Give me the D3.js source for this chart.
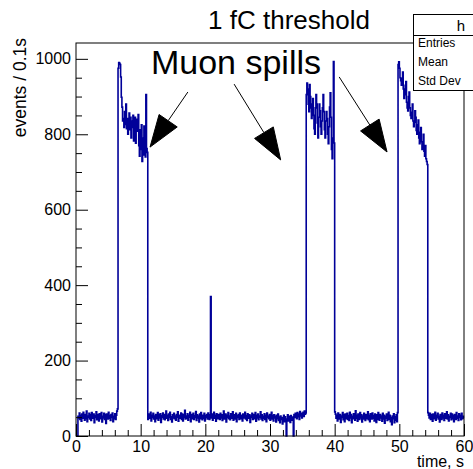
<!DOCTYPE html>
<html>
<head>
<meta charset="utf-8">
<script src="https://cdn.jsdelivr.net/npm/d3@7/dist/d3.min.js"></script>
<style>
  html, body { margin: 0; padding: 0; background: #fff; }
  svg { display: block; }
  text { font-family: "Liberation Sans", Arial, Helvetica, sans-serif; }
</style>
</head>
<body>
<svg id="chart" width="473" height="469"></svg>
<script>
// ---- data: events per 0.1 s bin, segment by segment ----
const binWidth = 0.1;
const bgA = [0,0,0,52,48,61,44,55,39,58,
  47,63,50,42,57,46,66,38,53,49,
  60,45,56,41,62,50,47,58,35,54,
  49,64,43,57,51,40,59,46,55,62,
  37,52,48,60,44,56,33,58,50,45,
  63,47,54,41,57,49,61,38,52,46,
  59,44,55,66,72];
const spill1 = [975,990,988,985,952,898,872,835,842,818,
  860,826,880,815,842,800,838,856,812,845,
  790,835,818,850,782,828,845,776,840,820,
  808,852,770,742,812,760,825,728,790,745,
  822,780,740,905,762,752];
const bgB = [44,58,52,47,63,40,55,49,60,45,
  53,38,57,50,46,62,42,56,48,59,
  36,54,50,61,45,57,43,52,66,47,
  55,41,58,49,63,44,51,37,56,48,
  60,46,53,42,57,50,64,39,55,47,
  52,61,44,58,40,56,49,68,45,53,
  47,59,42,55,50,63,38,57,46,52,
  60,44,54,49,65,41,56,48,53,37,
  58,46,62,50,43,55,47,60,40,54,
  49,57,45,61,52,44,56,370,48,58,
  42,53,63,47,55,39,59,50,46,57,
  52,44,60,48,56,41,54,66,45,51,
  58,37,55,49,62,46,53,43,59,50,
  47,64,42,56,51,45,60,38,54,49,
  57,44,61,50,46,55,40,58,52,48,
  63,45,54,41,59,50,47,56,36,53,
  49,60,44,57,52,46,62,39,55,48,
  58,43,53,50,64,45,56,41,52,47,
  59,44,55,38,61,49,53,46,57,42,
  50,63,45,54,40,56,48,52,37,55,
  46,58,41,50,35,53,44,49,32,47,
  55,38,51,43,0,45,56,40,52,48,
  36,54,42,50,47,0,57,49,60,53,
  46,62,51,58,44,65,53,60,48,57,
  63,52,66,58,61];
const spill2 = [905,936,920,880,860,932,900,870,842,880,
  895,850,815,800,870,905,880,830,790,845,
  880,862,820,800,835,870,905,860,812,790,
  835,860,842,800,775,820,872,910,845,760,
  735,790,993,777];
const bgC = [64,58,47,55,40,61,52,45,57,36,
  53,49,62,43,56,38,58,50,46,60,
  44,54,41,63,48,57,35,52,46,59,
  50,42,67,47,55,39,58,51,44,62,
  48,56,37,53,45,60,49,41,57,52,
  46,64,43,55,38,59,50,45,61,47,
  54,40,58,49,36,56,44,62,51,42,
  57,48,53,39,60,45,55,34,52,47,
  58,41,50,63,44,55,38,49,30,53,
  46,59,35,51,42,56,38,62];
const spill3 = [985,992,975,950,942,930,948,965,920,895,
  905,930,940,885,870,862,900,912,870,850,
  842,858,880,835,820,832,862,845,810,800,
  825,838,790,775,805,818,780,760,772,800,
  755,742,770,735,728,720];
const bgD = [62,55,48,60,44,57,51,39,58,46,
  53,63,42,55,49,60,45,52,37,57,
  50,44,61,48,55,41,59,47,53,64,
  45,56,40,52,49,60,43,58,46,54,
  38,57,50,44,62,47,53,41,59,49,
  55,43,60,46,52,48];

const xTicksMajor = [0,10,20,30,40,50,60];
const yTicksMajor = [0,200,400,600,800,1000];
const titleText = "1 fC threshold";
const xTitle = "time, s";
const yTitle = "events / 0.1s";
const noteText = "Muon spills";
const statsName = "h";
const statsRows = ["Entries","Mean","Std Dev"];
// annotation arrows in data units: [t0, y0, t1 (tip), y1 (tip)]
const arrowsData = [[17.3, 912, 11.45, 766],[24.45, 933, 31.65, 732],[40.7, 952, 48.1, 753]];

const counts = [].concat(bgA, spill1, bgB, spill2, bgC, spill3, bgD);

// ---- drawing ----
const svg = d3.select("#chart");
const x = d3.scaleLinear().domain([0, 60]).range([76, 464]);
const y = d3.scaleLinear().domain([0, 1042]).range([436, 43]);

// title
svg.append("text").attr("x", 289).attr("y", 29).attr("text-anchor", "middle")
  .attr("font-size", 26).attr("fill", "#000").text(titleText);

// histogram step outline
const pts = counts.map((v, i) => [i * binWidth, v]);
pts.push([counts.length * binWidth, counts[counts.length - 1]]);
const line = d3.line().x(d => x(d[0])).y(d => y(d[1])).curve(d3.curveStepAfter);
svg.append("path").datum(pts).attr("d", line)
  .attr("fill", "none").attr("stroke", "#000099").attr("stroke-width", 1.6)
  .attr("stroke-linejoin", "miter");

// axes
const fontFam = '"Liberation Sans", Arial, Helvetica, sans-serif';
const gx = svg.append("g").attr("transform", `translate(0,${y(0)})`)
  .call(d3.axisBottom(x).tickValues(xTicksMajor).tickSize(-12).tickPadding(5).tickFormat(d3.format("d")));
const gxm = svg.append("g").attr("transform", `translate(0,${y(0)})`)
  .call(d3.axisBottom(x).tickValues(d3.range(0, 61, 2).filter(v => v % 10 !== 0)).tickSize(-6).tickFormat(""));
const gy = svg.append("g").attr("transform", `translate(${x(0)},0)`)
  .call(d3.axisLeft(y).tickValues(yTicksMajor).tickSize(-12).tickPadding(5).tickFormat(d3.format("d")));
const gym = svg.append("g").attr("transform", `translate(${x(0)},0)`)
  .call(d3.axisLeft(y).tickValues(d3.range(0, 1001, 50).filter(v => v % 200 !== 0)).tickSize(-6).tickFormat(""));
[gx, gxm, gy, gym].forEach(g => {
  g.select(".domain").remove();
  g.selectAll("line").attr("stroke", "#000").attr("stroke-width", 1);
  g.selectAll("text").attr("font-size", 16).attr("fill", "#000").attr("font-family", fontFam);
});

// frame
svg.append("rect").attr("x", x(0)).attr("y", y(1042))
  .attr("width", x(60) - x(0)).attr("height", y(0) - y(1042))
  .attr("fill", "none").attr("stroke", "#000").attr("stroke-width", 1);

// axis titles
svg.append("text").attr("x", x(60)).attr("y", 467).attr("text-anchor", "end")
  .attr("font-size", 16).text(xTitle);
svg.append("text").attr("transform", `translate(26,${y(1042) - 5}) rotate(-90)`)
  .attr("text-anchor", "end").attr("font-size", 17.5).text(yTitle);

// annotation
svg.append("text").attr("x", x(24.74)).attr("y", y(960)).attr("text-anchor", "middle")
  .attr("font-size", 34).text(noteText);

const headLen = 32, headHalf = 11;
arrowsData.forEach(a => {
  const x0 = x(a[0]), y0 = y(a[1]), x1 = x(a[2]), y1 = y(a[3]);
  const dx = x1 - x0, dy = y1 - y0, L = Math.hypot(dx, dy);
  const ux = dx / L, uy = dy / L;
  const bx = x1 - ux * headLen, by = y1 - uy * headLen;
  svg.append("line").attr("x1", x0).attr("y1", y0).attr("x2", bx).attr("y2", by)
    .attr("stroke", "#000").attr("stroke-width", 1);
  svg.append("path")
    .attr("d", `M${x1},${y1}L${bx - uy * headHalf},${by + ux * headHalf}L${bx + uy * headHalf},${by - ux * headHalf}Z`)
    .attr("fill", "#000").attr("stroke", "#000").attr("stroke-width", 1);
});

// stats box (cut by right edge)
const sb = svg.append("g");
sb.append("rect").attr("x", 413.5).attr("y", 14.5).attr("width", 120).attr("height", 76)
  .attr("fill", "#fff").attr("stroke", "#000").attr("stroke-width", 1);
sb.append("line").attr("x1", 413.5).attr("x2", 533).attr("y1", 35.5).attr("y2", 35.5)
  .attr("stroke", "#000").attr("stroke-width", 1);
sb.append("text").attr("x", 461).attr("y", 31).attr("text-anchor", "middle")
  .attr("font-size", 15).text(statsName);
statsRows.forEach((r, i) => {
  sb.append("text").attr("x", 418).attr("y", 47 + i * 19).attr("font-size", 12).text(r);
});
</script>
</body>
</html>
